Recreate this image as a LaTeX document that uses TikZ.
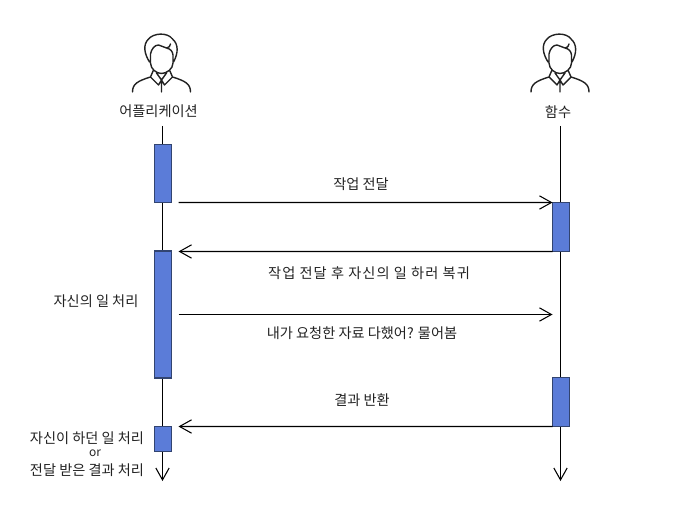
\documentclass[tikz,border=0pt]{standalone}
\usepackage{fontspec}
\setmainfont{Noto Sans CJK KR}
\usetikzlibrary{arrows.meta}
\definecolor{actblue}{RGB}{91,124,216}
\definecolor{actnavy}{RGB}{50,68,112}
\definecolor{inkgray}{RGB}{34,34,34}
\begin{document}
\begin{tikzpicture}[
      x=0.025cm, y=-0.025cm,
      actbox/.style={draw=actnavy, fill=actblue, line width=1.4pt, minimum width=0.425cm, inner sep=0pt, outer sep=0pt},
      msg/.style={line width=0.75pt, -{Straight Barb[length=8.5pt, width=9.5pt, line width=0.75pt]}},
      lbl/.style={font=\fontsize{10.1}{12}\selectfont, text=inkgray, inner sep=0pt},
      person/.pic={
        \draw[inkgray, line width=1pt, line cap=round, line join=round]
          % hair
          (-12,2) .. controls (-17,-6) and (-19,-15) .. (-13,-21)
          .. controls (-8,-27) and (6,-28) .. (11,-21)
          .. controls (17,-16) and (17,-7) .. (12,2)
          % fringe
          (-11,-6) .. controls (-10,-11) and (-7,-15) .. (-3,-15)
          .. controls (0,-15) and (2,-12) .. (5,-12)
          .. controls (7,-12) and (9,-14) .. (9,-16)
          (5,-12) .. controls (9,-11) and (11,-9) .. (11.5,-5)
          % face
          (-11,-6) -- (-11,3) .. controls (-11,9) and (-5,13.5) .. (0,13.5)
          .. controls (5,13.5) and (11.5,9) .. (11.5,3) -- (11.5,-5)
          % collar
          (-8,10) -- (-11,17) -- (-3,25) -- (0,20) -- (3,25) -- (11,17) -- (8,10)
          (-5,13) -- (0,20) -- (5,13)
          (0,20) -- (0,32)
          % shoulders
          (-29,32) .. controls (-29,24) and (-24,21) .. (-11,17)
          (29,32) .. controls (29,24) and (24,21) .. (11,17);
      }
    ]
      \useasboundingbox (0,0) rectangle (696,511);

      % Actors
      \pic at (161.5,60) {person};
      \pic at (560,60) {person};
      \node[lbl] (apptitle) at (158.5,111) {어플리케이션};
      \node[lbl] (functitle) at (558,112) {함수};

      % Lifelines
      \coordinate (append) at (162.5,481);
      \coordinate (funcend) at (560.5,481);
      \coordinate (apptop) at (162.5,126);
      \coordinate (functop) at (560.5,126);
      \draw[msg] (apptop) -- (append);
      \draw[msg] (functop) -- (funcend);

      % Activation boxes
      \node[actbox, minimum height=1.45cm] (app1) at (163,173.5) {};
      \node[actbox, minimum height=1.225cm] (func1) at (561,227) {};
      \node[actbox, minimum height=3.15cm] (app2) at (163,314.5) {};
      \node[actbox, minimum height=1.225cm] (func2) at (561,402) {};
      \node[actbox, minimum height=0.625cm] (app3) at (163,439) {};

      % Messages
      \coordinate (func3) at (func1.west |- app2.east);
      \draw[msg, shorten <=0.175cm] (app1.south east) -- (func1.north west);
      \draw[msg, shorten >=0.175cm] (func1.south west) -- (app2.north east);
      \draw[msg, shorten <=0.175cm] (app2.east) -- (func3);
      \draw[msg, shorten >=0.175cm] (func2.south west) -- (app3.north east);

      % Labels
      \node[lbl] (call) at (361,184) {작업 전달};
      \node[lbl, font=\fontsize{10.1}{12}\selectfont\addfontfeature{LetterSpace=7.5}] (back) at (369,273) {작업 전달 후 자신의 일 하러 복귀};
      \node[lbl] (ask) at (362,333) {내가 요청한 자료 다했어? 물어봄};
      \node[lbl] (result) at (362,400) {결과 반환};
      \node[lbl] (own) at (96,301) {자신의 일 처리};
      \node[lbl] (resume) at (87,438) {자신이 하던 일 처리};
      \node[lbl, font=\fontsize{8.5}{10}\selectfont] (ortext) at (95,453.5) {or};
      \node[lbl] (handle) at (87,470) {전달 받은 결과 처리};
    \end{tikzpicture}
\end{document}
